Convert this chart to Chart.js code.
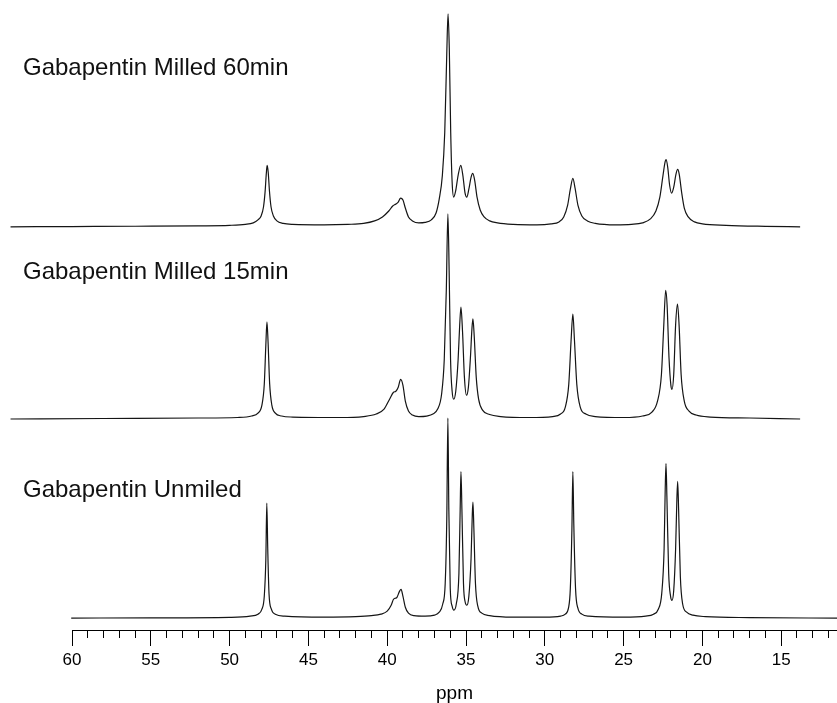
<!DOCTYPE html>
<html>
<head>
<meta charset="utf-8">
<script src="https://cdn.jsdelivr.net/npm/chart.js@4.4.1/dist/chart.umd.min.js"></script>
<style>
  html, body { margin: 0; padding: 0; background: #fff; }
  #wrap { width: 837px; height: 703px; position: relative; }
</style>
</head>
<body>
<div id="wrap"><canvas id="nmr"></canvas></div>
<script>
// trace names, top to bottom
const traceNames = ['Gabapentin Milled 60min', 'Gabapentin Milled 15min', 'Gabapentin Unmiled'];

// [ppm, intensity], left (high ppm) to right
const milled60 = [
  [63.9,0],[60,0.3],[56,0.6],[52,1],[50,1.5],[49,2.5],[48.5,4],[48.2,7],[48,11],[47.85,20],[47.75,35],[47.67,54],
  [47.62,62],[47.55,55],[47.47,36],[47.37,20],[47.22,11],[47,6],[46.6,3.5],[46,2.5],[44,2],[42.5,2.5],[41.5,3.5],
  [40.8,6],[40.3,10],[39.9,16],[39.65,21],[39.45,23],[39.3,25],[39.15,29],[39.0,27],[38.85,19],[38.65,10],[38.4,6],
  [38.0,4],[37.6,4.5],[37.2,7],[36.9,14],[36.7,28],[36.5,52],[36.35,95],[36.22,175],[36.14,215],[36.06,180],
  [35.97,95],[35.88,45],[35.78,30],[35.66,36],[35.5,52],[35.33,62],[35.2,52],[35.06,34],[34.95,30],[34.82,38],
  [34.68,50],[34.57,54],[34.45,47],[34.3,30],[34.1,17],[33.85,10],[33.5,6],[33,4],[32,2.5],[30.5,2],[29.6,3],
  [29.1,5],[28.8,10],[28.55,22],[28.38,38],[28.22,49],[28.08,39],[27.9,22],[27.65,11],[27.3,6],[26.8,3.5],[25.5,2],
  [24.5,2.5],[23.8,4],[23.3,8],[22.95,16],[22.7,30],[22.5,52],[22.36,66],[22.3,68],[22.2,60],[22.08,42],[21.95,34],
  [21.82,40],[21.68,53],[21.57,58],[21.47,53],[21.32,35],[21.15,19],[20.9,10],[20.5,5],[20,3],[18.5,1.5],[16,0.5],[13.8,0]
];

const milled15 = [
  [63.9,0],[58,0.5],[52,1],[49.5,1.5],[48.6,3],[48.2,6],[47.95,14],[47.8,35],[47.7,75],[47.63,98],[47.56,78],
  [47.46,36],[47.32,14],[47.1,6],[46.7,3],[46,2],[43,1.5],[41.5,2.5],[40.7,5],[40.2,10],[39.85,20],[39.6,27],
  [39.45,28],[39.3,32],[39.15,40],[39.0,34],[38.85,18],[38.65,8],[38.4,4],[38,2.5],[37.5,3],[37.1,5],[36.8,10],
  [36.55,25],[36.38,60],[36.25,130],[36.15,207],[36.07,150],[35.98,60],[35.88,28],[35.78,20],[35.65,28],[35.5,60],
  [35.4,95],[35.32,113],[35.22,88],[35.1,42],[34.97,24],[34.85,32],[34.72,62],[34.62,92],[34.56,101],[34.48,84],
  [34.35,42],[34.2,20],[33.95,9],[33.5,4.5],[32.8,2.5],[31,1.5],[29.5,2.5],[29,5],[28.7,12],[28.48,35],[28.33,80],
  [28.22,106],[28.12,80],[27.97,35],[27.75,12],[27.4,5],[26.8,2.5],[25,1.5],[23.8,3],[23.2,7],[22.85,18],[22.6,45],
  [22.45,95],[22.33,130],[22.24,115],[22.12,62],[22.0,34],[21.93,30],[21.82,45],[21.7,95],[21.58,116],[21.48,95],
  [21.35,45],[21.15,18],[20.85,8],[20.4,4],[19.5,2],[17,1],[13.8,0]
];

const unmilled = [
  [60.05,0],[55,0.3],[50,0.8],[48.7,2],[48.2,4],[47.95,9],[47.8,22],[47.7,60],[47.64,116],[47.58,70],[47.5,25],
  [47.35,9],[47.1,4],[46.5,2],[44,1],[42,1.5],[41,2.5],[40.4,4],[40,7],[39.75,13],[39.6,19],[39.5,20],[39.38,21],
  [39.22,27],[39.12,29],[39.0,22],[38.85,11],[38.65,5],[38.3,2.5],[37.6,2],[37,3],[36.7,6],[36.48,14],[36.32,35],
  [36.22,100],[36.15,202],[36.09,110],[36.0,30],[35.88,12],[35.77,8],[35.62,14],[35.45,45],[35.37,110],[35.32,148],
  [35.26,110],[35.16,35],[35.05,16],[34.95,13],[34.82,22],[34.68,60],[34.6,105],[34.56,117],[34.5,90],[34.4,35],
  [34.25,12],[34,5],[33.5,2.5],[32,1],[30,1],[29,2],[28.7,4],[28.5,10],[28.38,30],[28.28,90],[28.22,148],[28.16,95],
  [28.05,30],[27.9,10],[27.65,4],[27.2,2],[25,1],[23.6,2],[23.1,4],[22.8,9],[22.58,25],[22.43,70],[22.36,130],
  [22.31,156],[22.25,120],[22.14,45],[22.02,22],[21.93,18],[21.82,28],[21.7,70],[21.62,120],[21.57,138],[21.51,110],
  [21.4,42],[21.25,14],[21.0,6],[20.6,3],[19.8,1.5],[17,0.5],[11.46,0]
];

// vertical stacking offsets of each trace
const offsets = [407, 213, 12];

const ppmMin = 11.46, ppmMax = 60;

Chart.defaults.font.family = '"Liberation Sans", Arial, sans-serif';
Chart.defaults.color = '#000';

const traces = [milled60, milled15, unmilled];

const labelPlugin = {
  id: 'traceLabels',
  afterDraw(chart) {
    const ctx = chart.ctx;
    const ys = [75, 279, 497];
    ctx.save();
    ctx.font = '24px "Liberation Sans", Arial, sans-serif';
    ctx.fillStyle = '#111';
    ctx.textBaseline = 'alphabetic';
    traceNames.forEach((name, i) => ctx.fillText(name, 23, ys[i]));
    ctx.restore();
  }
};

new Chart(document.getElementById('nmr'), {
  type: 'line',
  data: {
    datasets: traces.map((t, i) => ({
      label: traceNames[i],
      data: t.map(p => ({ x: p[0], y: p[1] + offsets[i] })),
      borderColor: '#151515',
      borderWidth: 1.2,
      pointRadius: 0,
      fill: false,
      cubicInterpolationMode: 'monotone',
      clip: false,
      xAxisID: 'x',
      yAxisID: 'y'
    }))
  },
  options: {
    responsive: true,
    maintainAspectRatio: false,
    animation: false,
    layout: { padding: { left: 72, right: 0, top: 0, bottom: 0 } },
    plugins: { legend: { display: false }, tooltip: { enabled: false } },
    scales: {
      x: {
        type: 'linear',
        position: 'bottom',
        reverse: true,
        min: ppmMin,
        max: ppmMax,
        ticks: { stepSize: 5, includeBounds: false, autoSkip: false, maxRotation: 0, padding: 6,
                 color: '#000', font: { size: 17, lineHeight: 1 } },
        grid: { drawOnChartArea: false, drawTicks: true, tickLength: 16, color: '#000', tickColor: '#000' },
        border: { display: true, color: '#000', width: 1 },
        title: { display: true, text: 'ppm', color: '#000', font: { size: 19, lineHeight: 1 },
                 padding: { top: 9, bottom: 0 } }
      },
      xMinor: {
        type: 'linear',
        position: { y: 0 },
        reverse: true,
        min: ppmMin,
        max: ppmMax,
        ticks: { stepSize: 1, includeBounds: false, display: false },
        grid: { drawOnChartArea: false, drawTicks: true, tickLength: 8, color: '#000', tickColor: '#000' },
        border: { display: false }
      },
      y: {
        display: false,
        min: 0,
        max: 636
      }
    }
  },
  plugins: [labelPlugin]
});
</script>
</body>
</html>
